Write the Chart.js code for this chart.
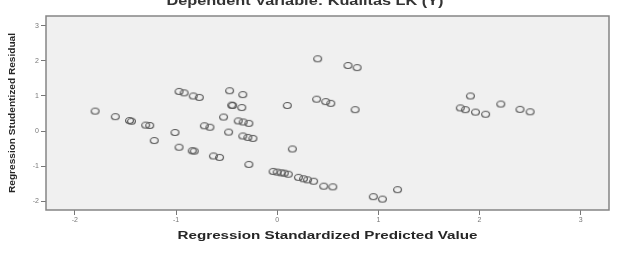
<!DOCTYPE html>
<html>
<head>
<meta charset="utf-8">
<script src="https://cdn.jsdelivr.net/npm/chart.js@4.4.0/dist/chart.umd.min.js"></script>
<style>
  html, body { margin: 0; padding: 0; background: #fff; }
  #wrap { width: 617px; height: 260px; position: relative; }
</style>
</head>
<body>
<div id="wrap"><canvas id="scatter" width="617" height="260"></canvas></div>
<script>
const predicted = [
  -1.80, -1.60, -1.46, -1.44, -1.30, -1.26, -1.215, -1.01, -0.97, -0.84, -0.82,
  -0.97, -0.92, -0.83, -0.77, -0.72, -0.665, -0.63, -0.57, -0.53, -0.47, -0.48,
  -0.34, -0.44, -0.45, -0.35, -0.385, -0.336, -0.28, -0.34, -0.29, -0.24, -0.28,
  0.10, 0.15, 0.40, 0.70, 0.79, 0.39, 0.48, 0.53, 0.77,
  -0.04, 0.00, 0.04, 0.07, 0.11, 0.21, 0.26, 0.30, 0.36, 0.46, 0.55,
  0.95, 1.04, 1.19, 1.91, 1.81, 1.86, 1.96, 2.06, 2.21, 2.40, 2.50
];
const residual = [
  0.57, 0.41, 0.30, 0.28, 0.17, 0.16, -0.27, -0.04, -0.46, -0.56, -0.57,
  1.13, 1.09, 1.00, 0.96, 0.15, 0.11, -0.71, -0.75, 0.40, 1.15, -0.03,
  1.04, 0.73, 0.74, 0.67, 0.29, 0.26, 0.22, -0.14, -0.18, -0.21, -0.95,
  0.73, -0.51, 2.06, 1.87, 1.81, 0.91, 0.84, 0.79, 0.61,
  -1.15, -1.17, -1.19, -1.20, -1.23, -1.32, -1.36, -1.39, -1.43, -1.57, -1.59,
  -1.87, -1.94, -1.67, 1.00, 0.66, 0.61, 0.54, 0.48, 0.77, 0.62, 0.55
];
const xTicks = [-2, -1, 0, 1, 2, 3];
const yTicks = [-2, -1, 0, 1, 2, 3];

const titleText = "Dependent Variable: Kualitas LK (Y)";
const xTitle = "Regression Standardized Predicted Value";
const yTitle = "Regression Studentized Residual";

// hollow oval marker like the SPSS plot
const marker = document.createElement("canvas");
marker.width = 11; marker.height = 9;
(function () {
  const m = marker.getContext("2d");
  m.strokeStyle = "#5a5a5a";
  m.lineWidth = 1.2;
  m.beginPath();
  m.ellipse(5.5, 4.5, 3.9, 3.0, 0, 0, Math.PI * 2);
  m.stroke();
})();

const points = predicted.map((x, i) => ({ x: x, y: residual[i] }));

// text squeezed/stretched to a given width (the scan is a bit stretched)
function wideText(ctx, txt, x, y, width) {
  const w = ctx.measureText(txt).width;
  ctx.save();
  ctx.translate(x, y);
  ctx.scale(width / w, 1);
  ctx.fillText(txt, 0, 0);
  ctx.restore();
}

// plot background + frame + titles
const decor = {
  id: "decor",
  beforeDraw(chart) {
    const { ctx, chartArea: a } = chart;
    ctx.save();
    ctx.fillStyle = "#f0f0f0";
    ctx.fillRect(a.left, a.top, a.right - a.left, a.bottom - a.top);
    ctx.restore();
  },
  afterDraw(chart) {
    const { ctx, chartArea: a } = chart;
    ctx.save();
    ctx.strokeStyle = "#858585";
    ctx.lineWidth = 1.5;
    ctx.strokeRect(a.left, a.top, a.right - a.left, a.bottom - a.top);

    ctx.textAlign = "center";
    ctx.fillStyle = "#333";
    ctx.textBaseline = "alphabetic";
    ctx.font = "bold 12px 'Liberation Sans', Arial, sans-serif";
    wideText(ctx, titleText, 305, 5, 277);

    ctx.fillStyle = "#262626";
    ctx.font = "bold 10px 'Liberation Sans', Arial, sans-serif";
    ctx.textBaseline = "middle";
    wideText(ctx, xTitle, (a.left + a.right) / 2, 236, 300);

    ctx.translate(13, 113);
    ctx.rotate(-Math.PI / 2);
    ctx.font = "bold 9px 'Liberation Sans', Arial, sans-serif";
    wideText(ctx, yTitle, 0, 0, 160);
    ctx.restore();
  }
};

new Chart(document.getElementById("scatter"), {
  type: "scatter",
  data: {
    datasets: [{
      data: points,
      pointStyle: marker,
      pointRadius: 5,
      pointHoverRadius: 5
    }]
  },
  options: {
    responsive: false,
    animation: false,
    layout: { padding: { left: 0, top: 16, right: 8, bottom: 0 } },
    plugins: { legend: { display: false }, tooltip: { enabled: false } },
    scales: {
      x: {
        type: "linear",
        min: -2.285,
        max: 3.28,
        afterBuildTicks: (s) => { s.ticks = xTicks.map((v) => ({ value: v })); },
        afterFit: (s) => { s.height = 50; },
        grid: { drawOnChartArea: false, drawTicks: true, tickLength: 5, color: "#777" },
        border: { display: false },
        ticks: { color: "#777", font: { size: 7 }, padding: 1 }
      },
      y: {
        type: "linear",
        min: -2.25,
        max: 3.28,
        afterBuildTicks: (s) => { s.ticks = yTicks.map((v) => ({ value: v })); },
        afterFit: (s) => { s.width = 46; },
        grid: { drawOnChartArea: false, drawTicks: true, tickLength: 5, color: "#777" },
        border: { display: false },
        ticks: { color: "#777", font: { size: 7 }, padding: 2 }
      }
    }
  },
  plugins: [decor]
});
</script>
</body>
</html>
